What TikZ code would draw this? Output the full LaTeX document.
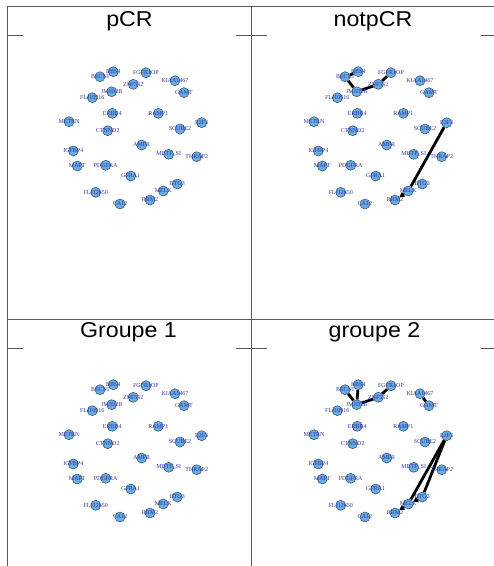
\documentclass[tikz,border=0pt]{standalone}
\usepackage{fontspec}
\setmainfont{Liberation Sans}
\newfontfamily\lblfont{Liberation Serif}
\usetikzlibrary{arrows.meta,backgrounds}
\definecolor{nodeblue}{RGB}{104,172,226}
\definecolor{nodeedge}{RGB}{50,80,110}
\definecolor{lblcol}{RGB}{50,50,165}
\definecolor{framecol}{RGB}{90,90,90}
\tikzset{
  gene/.style={circle,minimum size=10pt,inner sep=0pt,fill=nodeblue,draw=nodeedge,line width=0.5pt},
  genelbl/.style={text=lblcol,font=\lblfont\fontsize{6}{6}\selectfont,inner sep=0pt},
  link/.style={line width=2.8pt,black},
  arrlink/.style={link,-{Triangle[length=5pt,width=5.5pt]}},
  framelines/.style={draw=framecol,line width=0.9pt},
  paneltitle/.style={font=\fontsize{21.5}{21.5}\selectfont,anchor=base,inner sep=0pt,xscale=1.08,transform shape}
}
\newcommand\gn[4]{\node[gene,label={[genelbl]center:#4}] (#1#2) at #3 {};}
\newcommand\genegraph[1]{%
  \gn{#1}{BECNI}{(100,76.7)}{BECNI}
  \gn{#1}{BBS4}{(113.3,71.7)}{BBS4}
  \gn{#1}{FGFR1OP}{(146,72.7)}{FGFR1OP}
  \gn{#1}{KIAA1467}{(175,80.7)}{KIAA1467}
  \gn{#1}{ZNF552}{(133.3,84.3)}{ZNF552}
  \gn{#1}{GAMT}{(184,92.7)}{GAMT}
  \gn{#1}{JMJD2B}{(111.7,91.7)}{JMJD2B}
  \gn{#1}{FLJ10916}{(92.3,97.7)}{FLJ10916}
  \gn{#1}{ERBB4}{(112.3,113.3)}{ERBB4}
  \gn{#1}{RAMP1}{(158.3,113.3)}{RAMP1}
  \gn{#1}{METRN}{(69,121.7)}{METRN}
  \gn{#1}{CTNND2}{(107.7,130.7)}{CTNND2}
  \gn{#1}{SCUBE2}{(180,129)}{SCUBE2}
  \gn{#1}{E2F3}{(201.7,122.7)}{E2F3}
  \gn{#1}{AMFR}{(141.7,145)}{AMFR}
  \gn{#1}{MBTP}{(168.7,154.3)}{MBTP\_SI}
  \gn{#1}{THRAP2}{(196.7,156.7)}{THRAP2}
  \gn{#1}{IGFBP4}{(73.3,151)}{IGFBP4}
  \gn{#1}{MAPT}{(77.3,166)}{MAPT}
  \gn{#1}{PDGFRA}{(105.7,165.3)}{PDGFRA}
  \gn{#1}{GFRA1}{(130.7,176)}{GFRA1}
  \gn{#1}{BTG3}{(177.3,184)}{BTG3}
  \gn{#1}{MELK}{(163.3,191)}{MELK}
  \gn{#1}{RRM2}{(150,200)}{RRM2}
  \gn{#1}{CA12}{(120,204)}{CA12}
  \gn{#1}{FLJ12650}{(95.7,192.3)}{FLJ12650}
}
\begin{document}
\begin{tikzpicture}[x=1pt,y=-1pt]
\useasboundingbox (0,0) rectangle (494,566);
% frame
\draw[framelines] (7,566) -- (7,6) -- (494,6);
\draw[framelines] (251,6) -- (251,566);
\draw[framelines] (7,319) -- (494,319);
\foreach \yy in {35,348} {
  \draw[framelines] (7,\yy) -- (23,\yy);
  \draw[framelines] (236,\yy) -- (267,\yy);
  \draw[framelines] (481,\yy) -- (494,\yy);
}
% titles
\node[paneltitle] (t1) at (129.5,26.7) {pCR};
\node[paneltitle] (t2) at (373,26.7) {notpCR};
\node[paneltitle] (t3) at (128.5,337.3) {Groupe 1};
\node[paneltitle] (t4) at (374.5,337.3) {groupe 2};
% panels
\begin{scope}\genegraph{a-}\end{scope}
\begin{scope}[shift={(245,0)}]\genegraph{b-}\end{scope}
\begin{scope}[shift={(0,313)}]\genegraph{c-}\end{scope}
\begin{scope}[shift={(245,313)}]\genegraph{d-}\end{scope}
% edges
\begin{scope}[on background layer]
  \draw[link] (b-BECNI) -- (b-BBS4);
  \draw[link] (b-BECNI) -- (b-JMJD2B);
  \draw[link] (b-JMJD2B) -- (b-ZNF552);
  \draw[link] (b-ZNF552) -- (b-FGFR1OP);
  \draw[link] (b-E2F3) -- (b-MELK);
  \draw[arrlink] (b-MELK) -- (b-RRM2);
  \draw[link] (d-BECNI) -- (d-JMJD2B);
  \draw[link] (d-BBS4) -- (d-JMJD2B);
  \draw[link] (d-JMJD2B) -- (d-ZNF552);
  \draw[link] (d-ZNF552) -- (d-FGFR1OP);
  \draw[link] (d-KIAA1467) -- (d-GAMT);
  \draw[link] (d-E2F3) -- (d-MELK);
  \draw[link] (d-E2F3) -- (d-BTG3);
  \draw[arrlink] (d-BTG3) -- (d-MELK);
  \draw[arrlink] (d-MELK) -- (d-RRM2);
\end{scope}
\end{tikzpicture}
\end{document}
